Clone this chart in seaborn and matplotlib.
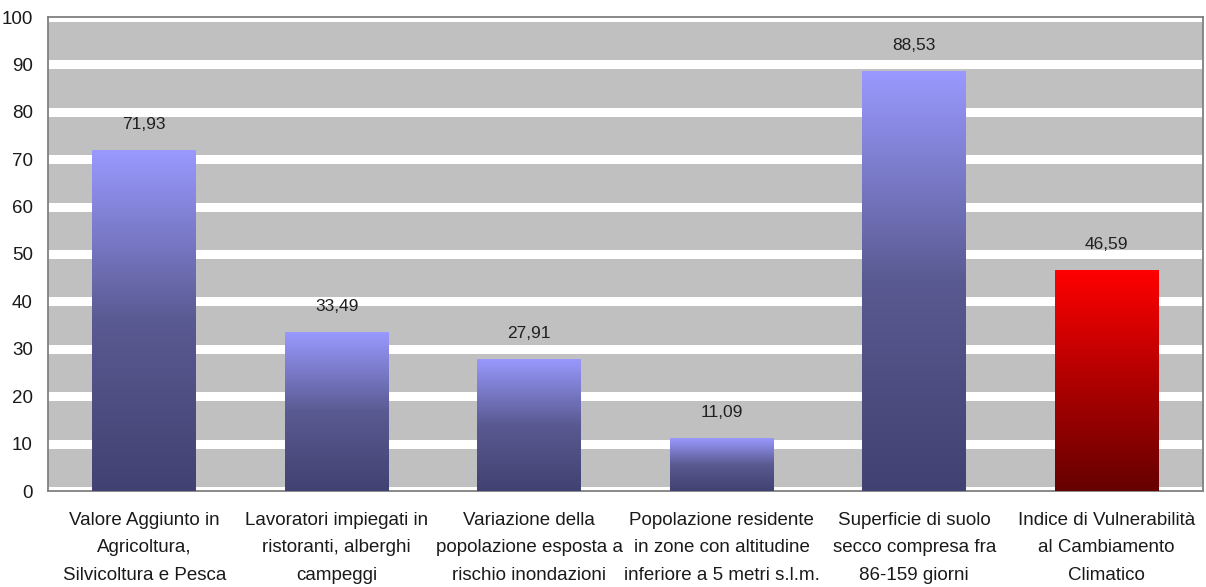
import numpy as np
import pandas as pd
import matplotlib
matplotlib.use("Agg")
import matplotlib.pyplot as plt
from matplotlib.colors import LinearSegmentedColormap
import seaborn as sns

categories = [
    "Valore Aggiunto in\nAgricoltura,\nSilvicoltura e Pesca",
    "Lavoratori impiegati in\nristoranti, alberghi\ncampeggi",
    "Variazione della\npopolazione esposta a\nrischio inondazioni",
    "Popolazione residente\nin zone con altitudine\ninferiore a 5 metri s.l.m.",
    "Superficie di suolo\nsecco compresa fra\n86-159 giorni",
    "Indice di Vulnerabilità\nal Cambiamento\nClimatico",
]
values = [71.93, 33.49, 27.91, 11.09, 88.53, 46.59]
highlight = [False, False, False, False, False, True]
yticks = [0, 10, 20, 30, 40, 50, 60, 70, 80, 90, 100]

plt.rcParams["font.family"] = ["Liberation Sans", "DejaVu Sans"]

fig = plt.figure(figsize=(12.06, 5.87), dpi=100)
ax = fig.add_axes([48 / 1206, 1 - 491 / 587, 1155 / 1206, 474 / 587])

df = pd.DataFrame({"cat": categories, "val": values})
sns.barplot(data=df, x="cat", y="val", ax=ax, width=0.54, color="#9999FF",
            saturation=1, zorder=3)

blue_cmap = LinearSegmentedColormap.from_list("b", ["#414172", "#5a5a92", "#9999FF"])
red_cmap = LinearSegmentedColormap.from_list("r", ["#660000", "#b00000", "#FF0000"])
grad = np.linspace(0, 1, 256).reshape(-1, 1)
for p, hi in zip(ax.patches, highlight):
    x0, y0 = p.get_x(), p.get_y()
    w, h = p.get_width(), p.get_height()
    im = ax.imshow(grad, cmap=red_cmap if hi else blue_cmap,
                   extent=[x0, x0 + w, y0, y0 + h], origin="lower",
                   aspect="auto", zorder=3.5)
    im.set_clip_path(p)
    p.set_facecolor("none")
    p.set_edgecolor("none")
    ax.annotate(f"{h:.2f}".replace(".", ","), (x0 + w / 2, y0 + h),
                xytext=(0, 13), textcoords="offset points", ha="center",
                va="bottom", fontsize=12.5, color="#202020")

ax.set_xlim(-0.5, len(categories) - 0.5)
ax.set_ylim(0, 100)
ax.set_yticks(yticks)
ax.set_xticks(range(len(categories)))
ax.set_xticklabels(categories, linespacing=1.8)
ax.set_facecolor("#C0C0C0")
ax.yaxis.grid(True, color="white", linewidth=6.5)
ax.xaxis.grid(False)
ax.set_axisbelow(True)
for s in ax.spines.values():
    s.set_color("#808080")
    s.set_linewidth(1.3)
ax.set_xlabel("")
ax.set_ylabel("")
ax.tick_params(axis="both", length=0, labelsize=13.5, colors="#1a1a1a")
ax.tick_params(axis="y", pad=11)
ax.tick_params(axis="x", pad=15)

fig.savefig("out.png", dpi=100)
